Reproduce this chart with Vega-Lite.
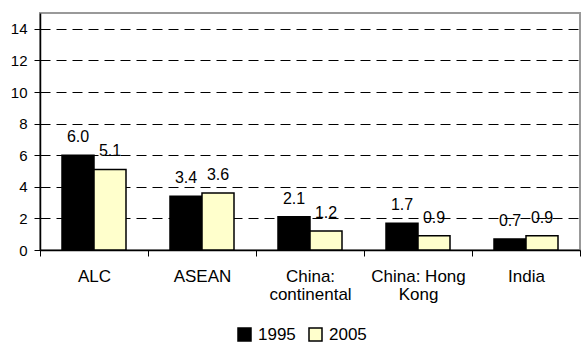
{
  "$schema": "https://vega.github.io/schema/vega-lite/v6.json",
  "width": 540,
  "height": 237,
  "autosize": {"type": "none"},
  "padding": {"left": 40, "top": 13, "right": 1, "bottom": 93},
  "config": {
    "font": "Liberation Sans",
    "view": {"stroke": "#999999", "strokeWidth": 2},
    "axis": {"labelColor": "#000000", "domainColor": "#000000", "tickColor": "#000000", "domainWidth": 1.5, "tickWidth": 1}
  },
  "data": {
    "values": [
      {"region": "ALC", "year": "1995", "value": 6.0},
      {"region": "ALC", "year": "2005", "value": 5.1},
      {"region": "ASEAN", "year": "1995", "value": 3.4},
      {"region": "ASEAN", "year": "2005", "value": 3.6},
      {"region": "China: continental", "year": "1995", "value": 2.1},
      {"region": "China: continental", "year": "2005", "value": 1.2},
      {"region": "China: Hong Kong", "year": "1995", "value": 1.7},
      {"region": "China: Hong Kong", "year": "2005", "value": 0.9},
      {"region": "India", "year": "1995", "value": 0.7},
      {"region": "India", "year": "2005", "value": 0.9}
    ]
  },
  "encoding": {
    "x": {
      "field": "region",
      "type": "nominal",
      "sort": ["ALC", "ASEAN", "China: continental", "China: Hong Kong", "India"],
      "scale": {"paddingInner": 0, "paddingOuter": 0},
      "axis": {
        "title": null,
        "labelAngle": 0,
        "tickBand": "extent",
        "tickSize": 6,
        "labelFontSize": 17,
        "labelPadding": 12,
        "labelLineHeight": 18,
        "labelExpr": "datum.label == 'China: continental' ? ['China:', 'continental'] : datum.label == 'China: Hong Kong' ? ['China: Hong', 'Kong'] : datum.label"
      }
    },
    "xOffset": {
      "field": "year",
      "type": "nominal",
      "scale": {"paddingInner": 0, "paddingOuter": 0.6875}
    },
    "y": {
      "field": "value",
      "type": "quantitative",
      "scale": {"domain": [0, 15], "nice": false},
      "axis": {
        "title": null,
        "values": [0, 2, 4, 6, 8, 10, 12, 14],
        "grid": true,
        "gridColor": "#000000",
        "gridDash": [10, 6],
        "gridWidth": 1,
        "tickSize": 6,
        "labelPadding": 7,
        "labelFontSize": 15
      }
    }
  },
  "layer": [
    {
      "mark": {"type": "bar", "stroke": "#000000", "strokeWidth": 1.5},
      "encoding": {
        "color": {
          "field": "year",
          "type": "nominal",
          "scale": {"domain": ["1995", "2005"], "range": ["#000000", "#FFFFCC"]},
          "legend": {
            "title": null,
            "orient": "none",
            "direction": "horizontal",
            "legendX": 196,
            "legendY": 313,
            "symbolType": "square",
            "symbolSize": 169,
            "symbolStrokeColor": "#000000",
            "symbolStrokeWidth": 1.5,
            "symbolOpacity": 1,
            "labelFontSize": 17,
            "labelColor": "#000000",
            "labelOffset": 5,
            "columnPadding": 10,
            "padding": 0
          }
        }
      }
    },
    {
      "mark": {"type": "text", "baseline": "alphabetic", "dy": -13, "fontSize": 16, "color": "#000000"},
      "encoding": {
        "text": {"field": "value", "type": "quantitative", "format": ".1f"}
      }
    }
  ]
}
